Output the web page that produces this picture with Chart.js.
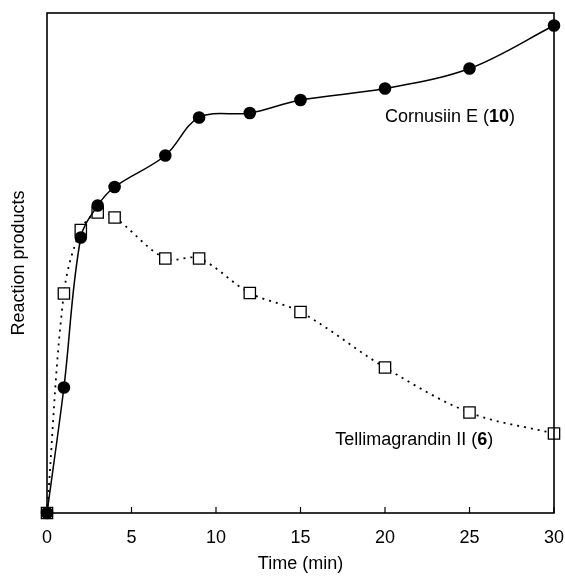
<!DOCTYPE html>
<html><head><meta charset="utf-8">
<script src="https://cdn.jsdelivr.net/npm/chart.js@4/dist/chart.umd.min.js"></script>
<style>html,body{margin:0;padding:0;background:#fff}#w{width:565px;height:577px}</style>
</head><body><div id="w"><canvas id="c" width="565" height="577"></canvas></div>
<script>
const timeMin = [0, 1, 2, 3, 4, 7, 9, 12, 15, 20, 25, 30];
const cornusiinE = [0, 25.1, 55.1, 61.5, 65.2, 71.5, 79.1, 80.0, 82.6, 84.9, 88.9, 97.5];
const tellimagrandinII = [0, 43.9, 56.6, 60.1, 59.1, 50.9, 50.9, 44.0, 40.2, 29.1, 20.1, 15.9];
const xTicks = [0, 5, 10, 15, 20, 25, 30];
const FONT = 'Liberation Sans, Arial, Helvetica, sans-serif';
const FS = 18;

const toPts = (xs, ys) => xs.map((x, i) => ({x, y: ys[i]}));

const framePlugin = {
  id: 'frame',
  afterDatasetsDraw(chart) {
    const {ctx, chartArea: a, scales} = chart;
    ctx.save();
    ctx.strokeStyle = '#000';
    ctx.lineWidth = 1.6;
    ctx.strokeRect(a.left, a.top, a.right - a.left, a.bottom - a.top);
    ctx.lineWidth = 1.2;
    xTicks.forEach(v => {
      const px = scales.x.getPixelForValue(v);
      ctx.beginPath(); ctx.moveTo(px, a.bottom); ctx.lineTo(px, a.bottom - 6); ctx.stroke();
    });
    const lab = (parts, x, y) => {
      let px = scales.x.getPixelForValue(x), py = scales.y.getPixelForValue(y);
      ctx.textBaseline = 'middle'; ctx.textAlign = 'left'; ctx.fillStyle = '#000';
      parts.forEach(([t, b]) => {
        ctx.font = (b ? 'bold ' : '') + FS + 'px ' + FONT;
        ctx.fillText(t, px, py); px += ctx.measureText(t).width;
      });
    };
    lab([['Cornusiin E (', false], ['10', true], [')', false]], 20.0, 79.2);
    lab([['Tellimagrandin II (', false], ['6', true], [')', false]], 17.05, 14.6);
    ctx.restore();
  }
};

new Chart(document.getElementById('c'), {
  type: 'line',
  data: {
    datasets: [
      {
        label: 'Tellimagrandin II (6)',
        data: toPts(timeMin, tellimagrandinII),
        borderColor: '#000', borderWidth: 1.8, borderDash: [2, 5],
        tension: 0.35, clip: false,
        pointStyle: 'rect', pointRadius: 8, pointBackgroundColor: '#fff',
        pointBorderColor: '#000', pointBorderWidth: 1.3,
        order: 2
      },
      {
        label: 'Cornusiin E (10)',
        data: toPts(timeMin, cornusiinE),
        borderColor: '#000', borderWidth: 1.5,
        tension: 0.35, clip: false,
        pointStyle: 'circle', pointRadius: 6.3, pointBackgroundColor: '#000',
        pointBorderColor: '#000', pointBorderWidth: 0,
        order: 1
      }
    ]
  },
  options: {
    responsive: false, animation: false, devicePixelRatio: 1,
    layout: {padding: {left: 0, right: 11, top: 13, bottom: 0}},
    plugins: {legend: {display: false}, tooltip: {enabled: false}},
    scales: {
      x: {
        type: 'linear', min: 0, max: 30,
        afterBuildTicks: s => { s.ticks = xTicks.map(v => ({value: v})); },
        afterFit: s => { s.height = 64; s.paddingLeft = 0; s.paddingRight = 0; },
        grid: {display: false, drawTicks: false}, border: {display: false},
        ticks: {padding: 14, color: '#000', font: {family: FONT, size: FS}},
        title: {display: true, text: 'Time (min)', color: '#000', font: {family: FONT, size: FS}, padding: {top: 0, bottom: 2}}
      },
      y: {
        type: 'linear', min: 0, max: 100,
        afterFit: s => { s.width = 47; s.paddingTop = 0; s.paddingBottom = 0; },
        grid: {display: false, drawTicks: false}, border: {display: false},
        ticks: {display: false},
        title: {display: true, text: 'Reaction products', color: '#000', font: {family: FONT, size: FS}, padding: {top: 8, bottom: 0}}
      }
    }
  },
  plugins: [framePlugin]
});
</script></body></html>
